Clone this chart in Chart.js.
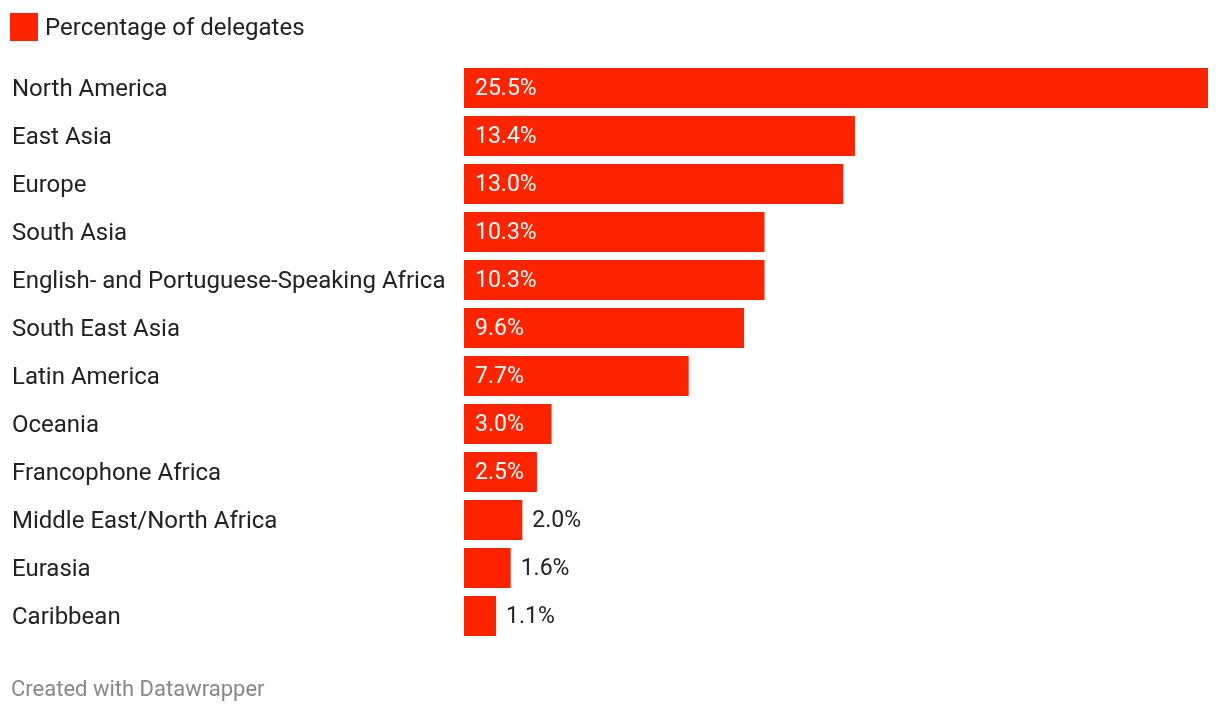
<!DOCTYPE html>
<html>
<head>
<meta charset="utf-8">
<script src="https://cdn.jsdelivr.net/npm/chart.js@4"></script>
<style>
  body { margin: 0; background: #fff; font-family: Roboto, sans-serif; }
  #wrap { position: relative; width: 1220px; height: 714px; }
  #legend { position: absolute; left: 10px; top: 13px; display: flex; align-items: center; font-size: 24px; color: #222; }
  #legend span.box { width: 28px; height: 28px; background: #ff2400; margin-right: 7px; }
  #footer { position: absolute; left: 11px; top: 676px; font-size: 22px; color: #888; }
  canvas { position: absolute; left: 0; top: 0; }
</style>
</head>
<body>
<div id="wrap">
  <canvas id="chart" width="1220" height="714"></canvas>
  <div id="legend"><span class="box"></span>Percentage of delegates</div>
  <div id="footer">Created with Datawrapper</div>
</div>
<script>
// Datos del gráfico
const regiones = ['North America', 'East Asia', 'Europe', 'South Asia',
  'English- and Portuguese-Speaking Africa', 'South East Asia', 'Latin America',
  'Oceania', 'Francophone Africa', 'Middle East/North Africa', 'Eurasia', 'Caribbean'];
const porcentajes = [25.5, 13.4, 13.0, 10.3, 10.3, 9.6, 7.7, 3.0, 2.5, 2.0, 1.6, 1.1];
const serieNombre = 'Percentage of delegates';

// Etiquetas de valor dentro / fuera de la barra
const valorLabels = {
    id: 'valorLabels',
    afterDatasetsDraw(chart) {
        const ctx = chart.ctx;
        const meta = chart.getDatasetMeta(0);
        ctx.save();
        ctx.font = '23px Roboto';
        ctx.textBaseline = 'middle';
        ctx.textAlign = 'left';
        meta.data.forEach((bar, i) => {
            const texto = porcentajes[i].toFixed(1) + '%';
            const ancho = bar.x - bar.base;
            const tw = ctx.measureText(texto).width;
            if (tw + 14 < ancho) {
                ctx.fillStyle = '#fff';
                ctx.fillText(texto, bar.base + 11, bar.y + 1);
            } else {
                ctx.fillStyle = '#222';
                ctx.fillText(texto, bar.x + 10, bar.y + 1);
            }
        });
        ctx.restore();
    }
};

new Chart(document.getElementById('chart'), {
    type: 'bar',
    data: {
        labels: regiones,
        datasets: [{
            label: serieNombre,
            data: porcentajes,
            backgroundColor: '#ff2400',
            borderWidth: 0,
            barPercentage: 40 / 48,
            categoryPercentage: 1
        }]
    },
    options: {
        indexAxis: 'y',
        responsive: false,
        animation: false,
        layout: { padding: { top: 64, bottom: 74, left: 12, right: 12 } },
        plugins: {
            legend: { display: false },
            tooltip: { enabled: false }
        },
        scales: {
            x: { display: false, min: 0, max: 25.5 },
            y: {
                grid: { display: false },
                border: { display: false },
                afterFit(scale) { scale.width = 452; },
                ticks: {
                    crossAlign: 'far',
                    labelOffset: 2,
                    color: '#222',
                    font: { family: 'Roboto', size: 24 }
                }
            }
        }
    },
    plugins: [valorLabels]
});
</script>
</body>
</html>
